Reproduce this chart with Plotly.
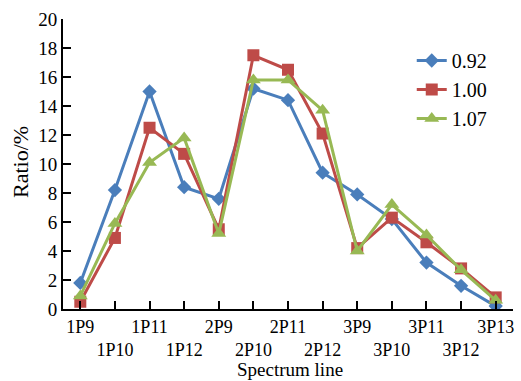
import plotly.graph_objects as go

categories = ["1P9", "1P10", "1P11", "1P12", "2P9", "2P10", "2P11", "2P12",
              "3P9", "3P10", "3P11", "3P12", "3P13"]
s092 = [1.8, 8.2, 15.0, 8.4, 7.6, 15.2, 14.4, 9.4, 7.9, 6.2, 3.2, 1.6, 0.2]
s100 = [0.5, 4.9, 12.5, 10.7, 5.5, 17.5, 16.5, 12.1, 4.2, 6.3, 4.6, 2.8, 0.8]
s107 = [0.9, 5.9, 10.1, 11.8, 5.2, 15.8, 15.8, 13.7, 4.0, 7.2, 5.1, 2.7, 0.6]
series_names = ["0.92", "1.00", "1.07"]
yticks = [0, 2, 4, 6, 8, 10, 12, 14, 16, 18, 20]

xpos = list(range(len(categories)))
ticktext = [c if i % 2 == 0 else "<br>" + c for i, c in enumerate(categories)]

FONT = "Liberation Serif, Times New Roman, serif"
styles = [
    (s092, "#4A7EBB", "diamond", 11),
    (s100, "#BE4B48", "square", 12),
    (s107, "#98B954", "triangle-up", 13),
]

fig = go.Figure()
for name, (vals, col, sym, sz) in zip(series_names, styles):
    fig.add_trace(go.Scatter(
        x=xpos, y=vals, name=name, mode="lines+markers",
        line=dict(color=col, width=3),
        marker=dict(symbol=sym, size=sz, color=col),
    ))

plot_w = 521 - 63 - 8
plot_h = 381 - 19 - 72

fig.update_layout(
    width=521, height=381,
    margin=dict(l=63, r=8, t=19, b=72),
    paper_bgcolor="white", plot_bgcolor="white",
    font=dict(family=FONT, size=19, color="black"),
    showlegend=True,
    legend=dict(x=0.775, y=(309 - 41) / plot_h, xanchor="left", yanchor="top",
                font=dict(size=20, family=FONT), bgcolor="rgba(0,0,0,0)",
                tracegroupgap=0, itemwidth=30),
    xaxis=dict(range=[-0.5, 12.5], tickmode="array", tickvals=xpos,
               ticktext=ticktext, tickangle=0, showgrid=False, zeroline=False,
               showline=True, linecolor="black", linewidth=2,
               ticks="inside", ticklen=8, tickwidth=1.5, tickcolor="black",
               tickfont=dict(size=18, family=FONT)),
    yaxis=dict(range=[0, 20], tickmode="array", tickvals=yticks,
               showgrid=False, zeroline=False,
               showline=True, linecolor="black", linewidth=2,
               ticks="inside", ticklen=8, tickwidth=1.5, tickcolor="black",
               tickfont=dict(size=19, family=FONT)),
    annotations=[
        dict(text="Ratio/%", x=(20 - 63) / plot_w, y=(309 - 162) / plot_h,
             xref="paper", yref="paper", xanchor="center", yanchor="middle",
             showarrow=False, textangle=-90, font=dict(size=22, family=FONT)),
        dict(text="Spectrum line", x=(290 - 63) / plot_w, y=(309 - 369) / plot_h,
             xref="paper", yref="paper", xanchor="center", yanchor="middle",
             showarrow=False, font=dict(size=19, family=FONT)),
    ],
)

fig.write_html("out.html")
